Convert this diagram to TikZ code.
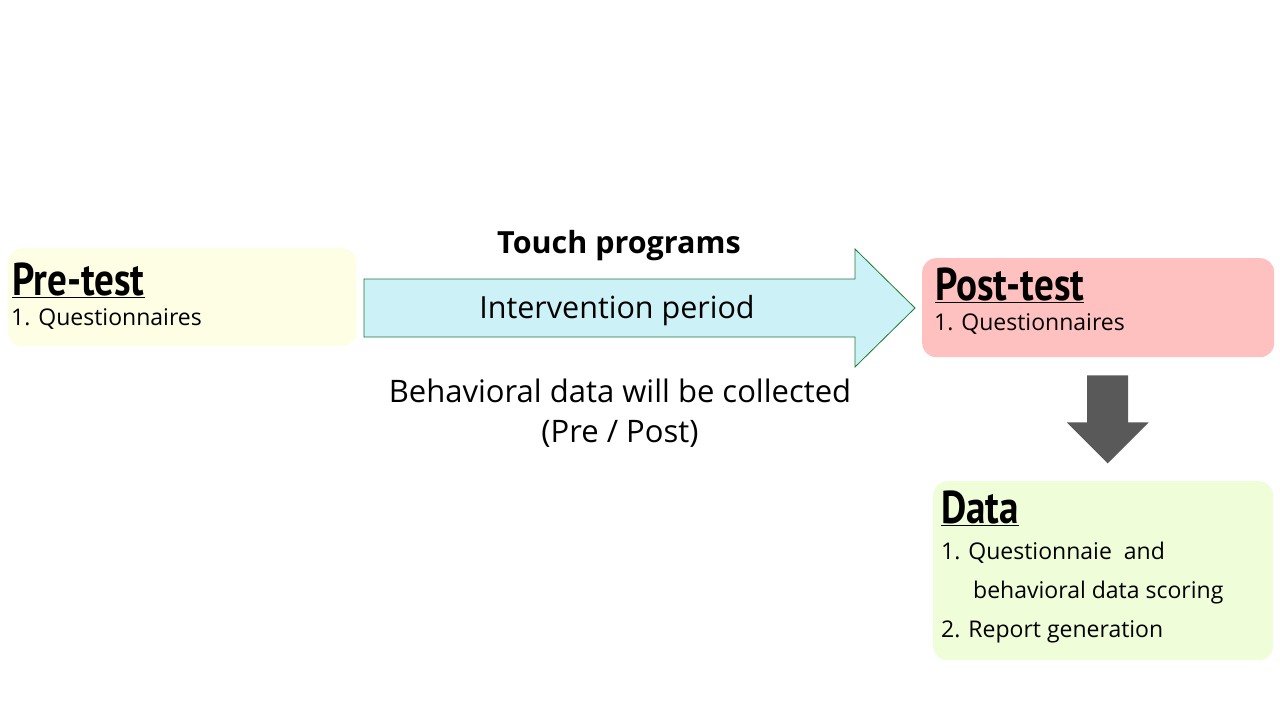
\documentclass[tikz,border=0pt]{standalone}
\usepackage{fontspec}
\setmainfont{Open Sans}
\newfontfamily\headfont{PT Sans}[FakeStretch=0.85]
\usetikzlibrary{calc, positioning}

\definecolor{preyellow}{HTML}{FDFEE4}
\definecolor{postred}{HTML}{FFC0C0}
\definecolor{datagreen}{HTML}{EFFDD8}
\definecolor{arrowcyan}{HTML}{CCF1F7}
\definecolor{arrowgreen}{HTML}{1E7A32}
\definecolor{darkgray}{HTML}{595959}

\tikzset{
  stagebox/.style={rounded corners=14pt, minimum width=#1, anchor=north west, inner sep=0pt},
  heading/.style={anchor=base west, inner sep=0pt, font=\headfont\bfseries\fontsize{46}{48}\selectfont},
  item/.style={anchor=base west, inner sep=0pt, font=\fontsize{23}{26}\selectfont},
  bigtext/.style={inner sep=0pt, font=\fontsize{30.5}{36}\selectfont}
}

\begin{document}
\begin{tikzpicture}[x=1pt, y=-1pt]
\useasboundingbox (0,0) rectangle (1280,720);

% stage boxes
\node[stagebox=348pt, minimum height=98pt, fill=preyellow] (pre) at (8,248) {};
\node[stagebox=352pt, minimum height=99pt, fill=postred] (post) at (922,258) {};
\node[stagebox=340pt, minimum height=179pt, fill=datagreen] (data) at (933,481) {};

% headings and items
\node[heading] (prehead) at (12,295) {\underline{Pre-test}};
\node[item] (preitem) at (11,325) {1. Questionnaires};
\node[heading] (posthead) at (935,300) {\underline{Post-test}};
\node[item] (postitem) at (934,330) {1. Questionnaires};
\node[heading] (datahead) at (941,523) {\underline{Data}};
\node[item] (dataone) at (941,559) {1. Questionnaie\ \ and};
\node[item] (dataonb) at (973,598) {behavioral data scoring};
\node[item] (datatwo) at (941,637) {2. Report generation};

% intervention arrow
\draw[arrowgreen, fill=arrowcyan, line width=0.8pt]
  (364,279) -- (855,279) -- (855,249) -- (915,308) -- (855,367)
  -- (855,337) -- (364,337) -- cycle;
\node[bigtext] (interv) at (617,311) {Intervention period};
\node[bigtext, font=\bfseries\fontsize{30.5}{36}\selectfont] (touch) at (619,246) {Touch programs};
\node[bigtext, align=center, font=\fontsize{31}{40}\selectfont] (behav) at (620,413)
  {Behavioral data will be collected\\(Pre / Post)};

% down arrow
\coordinate (dtop) at ($(post.south)+(9.5,18)$);
\fill[darkgray] ($(dtop)+(-20.5,0)$) -- ($(dtop)+(20.5,0)$) -- ($(dtop)+(20.5,47)$)
  -- ($(dtop)+(41,47)$) -- ($(dtop)+(0,88)$) -- ($(dtop)+(-41,47)$)
  -- ($(dtop)+(-20.5,47)$) -- cycle;
\end{tikzpicture}
\end{document}
